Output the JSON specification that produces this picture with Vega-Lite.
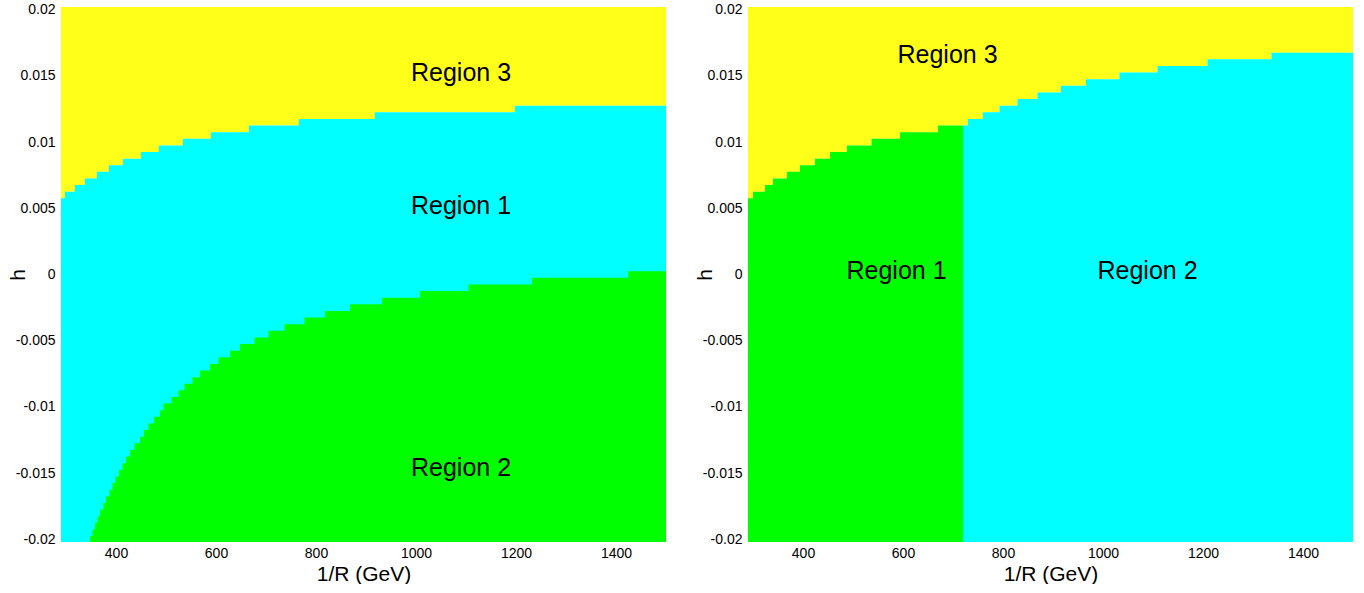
{
  "$schema": "https://vega.github.io/schema/vega-lite/v6.json",
  "background": "white",
  "padding": {"left": 7, "top": 2, "right": 0, "bottom": 0},
  "spacing": 28,
  "config": {
    "view": {"stroke": null},
    "font": "Liberation Sans",
    "axis": {"domain": false, "ticks": false, "grid": false, "labelColor": "black", "titleColor": "black", "titleFontWeight": "normal", "labelFont": "Liberation Sans", "titleFont": "Liberation Sans"},
    "axisX": {"labelFontSize": 14, "labelPadding": 4, "titleFontSize": 21, "titlePadding": 3},
    "axisY": {"labelFontSize": 14, "labelPadding": 6, "titleFontSize": 21, "titlePadding": 3, "minExtent": 30, "maxExtent": 30}
  },
  "datasets": {
    "left_upper": [
      {"x": 290, "h": 0.00575}, {"x": 298, "h": 0.00625}, {"x": 318, "h": 0.00675}, {"x": 338, "h": 0.00725},
      {"x": 362, "h": 0.00775}, {"x": 386, "h": 0.00825}, {"x": 414, "h": 0.00875}, {"x": 450, "h": 0.00925},
      {"x": 486, "h": 0.00975}, {"x": 534, "h": 0.01025}, {"x": 590, "h": 0.01075}, {"x": 666, "h": 0.01125},
      {"x": 766, "h": 0.01175}, {"x": 918, "h": 0.01225}, {"x": 1198, "h": 0.01275}, {"x": 1500, "h": 0.01275}
    ],
    "left_lower": [
      {"x": 348, "h": -0.01975}, {"x": 353, "h": -0.01925}, {"x": 358, "h": -0.01875}, {"x": 363, "h": -0.01825},
      {"x": 368, "h": -0.01775}, {"x": 375, "h": -0.01725}, {"x": 380, "h": -0.01675}, {"x": 387, "h": -0.01625},
      {"x": 393, "h": -0.01575}, {"x": 399, "h": -0.01525}, {"x": 406, "h": -0.01475}, {"x": 413, "h": -0.01425},
      {"x": 420, "h": -0.01375}, {"x": 428, "h": -0.01325}, {"x": 437, "h": -0.01275}, {"x": 448, "h": -0.01225},
      {"x": 456, "h": -0.01175}, {"x": 465, "h": -0.01125}, {"x": 476, "h": -0.01075}, {"x": 488, "h": -0.01025},
      {"x": 495, "h": -0.00975}, {"x": 511, "h": -0.00925}, {"x": 525, "h": -0.00875}, {"x": 537, "h": -0.00825},
      {"x": 553, "h": -0.00775}, {"x": 568, "h": -0.00725}, {"x": 588, "h": -0.00675}, {"x": 605, "h": -0.00625},
      {"x": 628, "h": -0.00575}, {"x": 648, "h": -0.00525}, {"x": 677, "h": -0.00475}, {"x": 705, "h": -0.00425},
      {"x": 737, "h": -0.00375}, {"x": 777, "h": -0.00325}, {"x": 818, "h": -0.00275}, {"x": 868, "h": -0.00225},
      {"x": 932, "h": -0.00175}, {"x": 1008, "h": -0.00125}, {"x": 1105, "h": -0.00075}, {"x": 1232, "h": -0.00025},
      {"x": 1424, "h": 0.00025}, {"x": 1500, "h": 0.00025}
    ],
    "right_upper": [
      {"x": 290, "h": 0.00575, "region": "Region 1"}, {"x": 300, "h": 0.00625, "region": "Region 1"},
      {"x": 324, "h": 0.00675, "region": "Region 1"}, {"x": 340, "h": 0.00725, "region": "Region 1"},
      {"x": 368, "h": 0.00775, "region": "Region 1"}, {"x": 394, "h": 0.00825, "region": "Region 1"},
      {"x": 424, "h": 0.00875, "region": "Region 1"}, {"x": 454, "h": 0.00925, "region": "Region 1"},
      {"x": 488, "h": 0.00975, "region": "Region 1"}, {"x": 537, "h": 0.01025, "region": "Region 1"},
      {"x": 594, "h": 0.01075, "region": "Region 1"}, {"x": 670, "h": 0.01125, "region": "Region 1"},
      {"x": 720, "h": 0.01125, "region": "Region 1"},
      {"x": 720, "h": 0.01125, "region": "Region 2"}, {"x": 730, "h": 0.01175, "region": "Region 2"},
      {"x": 760, "h": 0.01225, "region": "Region 2"}, {"x": 793, "h": 0.01275, "region": "Region 2"},
      {"x": 829, "h": 0.01325, "region": "Region 2"}, {"x": 869, "h": 0.01375, "region": "Region 2"},
      {"x": 916, "h": 0.01425, "region": "Region 2"}, {"x": 966, "h": 0.01475, "region": "Region 2"},
      {"x": 1033, "h": 0.01525, "region": "Region 2"}, {"x": 1109, "h": 0.01575, "region": "Region 2"},
      {"x": 1209, "h": 0.01625, "region": "Region 2"}, {"x": 1337, "h": 0.01675, "region": "Region 2"},
      {"x": 1500, "h": 0.01675, "region": "Region 2"}
    ],
    "labels": [
      {"panel": "left", "label": "Region 3", "x": 1090, "h": 0.0152},
      {"panel": "left", "label": "Region 1", "x": 1090, "h": 0.0052},
      {"panel": "left", "label": "Region 2", "x": 1090, "h": -0.0146},
      {"panel": "right", "label": "Region 3", "x": 689, "h": 0.0166},
      {"panel": "right", "label": "Region 1", "x": 587, "h": 0.0003},
      {"panel": "right", "label": "Region 2", "x": 1089, "h": 0.0003}
    ]
  },
  "hconcat": [
    {
      "width": 605,
      "height": 535,
      "layer": [
        {
          "data": {"name": "left_upper"},
          "mark": {"type": "area", "interpolate": "step-after", "color": "#ffff1a", "clip": true},
          "encoding": {
            "x": {"field": "x", "type": "quantitative", "scale": {"domain": [290, 1500], "nice": false, "zero": false},
                  "axis": {"title": "1/R (GeV)", "values": [400, 600, 800, 1000, 1200, 1400], "format": "d"}},
            "y": {"field": "h", "type": "quantitative", "scale": {"domain": [-0.0202, 0.0202], "nice": false, "zero": false},
                  "axis": {"title": "h", "values": [-0.02, -0.015, -0.01, -0.005, 0, 0.005, 0.01, 0.015, 0.02], "format": "~g", "labelExpr": "replace(datum.label, '\u2212', '-')"}},
            "y2": {"datum": 0.0202}
          }
        },
        {
          "data": {"name": "left_upper"},
          "mark": {"type": "area", "interpolate": "step-after", "color": "#00ffff", "clip": true},
          "encoding": {
            "x": {"field": "x", "type": "quantitative"},
            "y": {"field": "h", "type": "quantitative"},
            "y2": {"datum": -0.0202}
          }
        },
        {
          "data": {"name": "left_lower"},
          "mark": {"type": "area", "interpolate": "step-after", "color": "#00ff00", "clip": true},
          "encoding": {
            "x": {"field": "x", "type": "quantitative"},
            "y": {"field": "h", "type": "quantitative"},
            "y2": {"datum": -0.0202}
          }
        },
        {
          "data": {"name": "labels"},
          "transform": [{"filter": "datum.panel === 'left'"}],
          "mark": {"type": "text", "fontSize": 25, "font": "Liberation Sans", "color": "black", "align": "center", "baseline": "middle"},
          "encoding": {
            "x": {"field": "x", "type": "quantitative"},
            "y": {"field": "h", "type": "quantitative"},
            "text": {"field": "label"}
          }
        }
      ]
    },
    {
      "width": 605,
      "height": 535,
      "layer": [
        {
          "data": {"name": "right_upper"},
          "mark": {"type": "area", "interpolate": "step-after", "color": "#ffff1a", "clip": true},
          "encoding": {
            "x": {"field": "x", "type": "quantitative", "scale": {"domain": [290, 1500], "nice": false, "zero": false},
                  "axis": {"title": "1/R (GeV)", "values": [400, 600, 800, 1000, 1200, 1400], "format": "d"}},
            "y": {"field": "h", "type": "quantitative", "scale": {"domain": [-0.0202, 0.0202], "nice": false, "zero": false},
                  "axis": {"title": "h", "values": [-0.02, -0.015, -0.01, -0.005, 0, 0.005, 0.01, 0.015, 0.02], "format": "~g", "labelExpr": "replace(datum.label, '\u2212', '-')"}},
            "y2": {"datum": 0.0202}
          }
        },
        {
          "data": {"name": "right_upper"},
          "transform": [{"filter": "datum.region === 'Region 1'"}],
          "mark": {"type": "area", "interpolate": "step-after", "color": "#00ff00", "clip": true},
          "encoding": {
            "x": {"field": "x", "type": "quantitative"},
            "y": {"field": "h", "type": "quantitative"},
            "y2": {"datum": -0.0202}
          }
        },
        {
          "data": {"name": "right_upper"},
          "transform": [{"filter": "datum.region === 'Region 2'"}],
          "mark": {"type": "area", "interpolate": "step-after", "color": "#00ffff", "clip": true},
          "encoding": {
            "x": {"field": "x", "type": "quantitative"},
            "y": {"field": "h", "type": "quantitative"},
            "y2": {"datum": -0.0202}
          }
        },
        {
          "data": {"name": "labels"},
          "transform": [{"filter": "datum.panel === 'right'"}],
          "mark": {"type": "text", "fontSize": 25, "font": "Liberation Sans", "color": "black", "align": "center", "baseline": "middle"},
          "encoding": {
            "x": {"field": "x", "type": "quantitative"},
            "y": {"field": "h", "type": "quantitative"},
            "text": {"field": "label"}
          }
        }
      ]
    }
  ]
}
